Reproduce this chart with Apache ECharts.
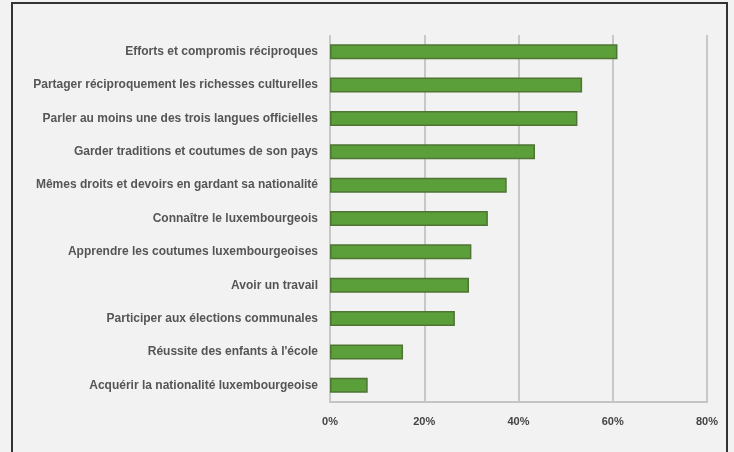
<!DOCTYPE html>
<html>
<head>
<meta charset="utf-8">
<script src="https://cdn.jsdelivr.net/npm/echarts@6/dist/echarts.min.js"></script>
<style>
  html, body { margin: 0; padding: 0; background: #f2f2f2; }
  #chart { width: 734px; height: 452px; }
</style>
</head>
<body>
<div id="chart"></div>
<script>
// Answers, listed top to bottom as shown
const categories = [
  "Efforts et compromis réciproques",
  "Partager réciproquement les richesses culturelles",
  "Parler au moins une des trois langues officielles",
  "Garder traditions et coutumes de son pays",
  "Mêmes droits et devoirs en gardant sa nationalité",
  "Connaître le luxembourgeois",
  "Apprendre les coutumes luxembourgeoises",
  "Avoir un travail",
  "Participer aux élections communales",
  "Réussite des enfants à l'école",
  "Acquérir la nationalité luxembourgeoise"
];
// Share of respondents (%)
const shares = [61, 53.5, 52.5, 43.5, 37.5, 33.5, 30, 29.5, 26.5, 15.5, 8];
const tickLabels = ["0%", "20%", "40%", "60%", "80%"];

const chart = echarts.init(document.getElementById('chart'), null, { renderer: 'canvas' });
chart.setOption({
  backgroundColor: '#f2f2f2',
  animation: false,
  grid: { left: 330, right: 27, top: 35, bottom: 50, containLabel: false },
  xAxis: {
    type: 'value',
    min: 0,
    max: 80,
    interval: 20,
    axisLine: { show: true, lineStyle: { color: '#c4c4c4', width: 2 } },
    axisTick: { show: false },
    splitLine: { show: true, lineStyle: { color: '#c8c8c8', width: 2 } },
    axisLabel: {
      color: '#444',
      fontSize: 11,
      fontWeight: 'bold',
      fontFamily: 'Liberation Sans, Arial, sans-serif',
      margin: 14,
      formatter: v => tickLabels[Math.round(v / 20)]
    }
  },
  yAxis: {
    type: 'category',
    inverse: true,
    data: categories,
    axisLine: { show: false },
    axisTick: { show: false },
    axisLabel: {
      color: '#555',
      fontSize: 12,
      fontWeight: 'bold',
      fontFamily: 'Liberation Sans, Arial, sans-serif',
      margin: 12
    }
  },
  series: [{
    type: 'bar',
    data: shares,
    barWidth: 15,
    itemStyle: {
      color: '#5b9f3a',
      borderColor: '#4f7433',
      borderWidth: 1.5
    }
  }],
  graphic: [{
    type: 'rect',
    shape: { x: 12, y: 3, width: 715, height: 470 },
    style: { fill: 'none', stroke: '#333', lineWidth: 2 },
    silent: true
  }]
});
</script>
</body>
</html>
